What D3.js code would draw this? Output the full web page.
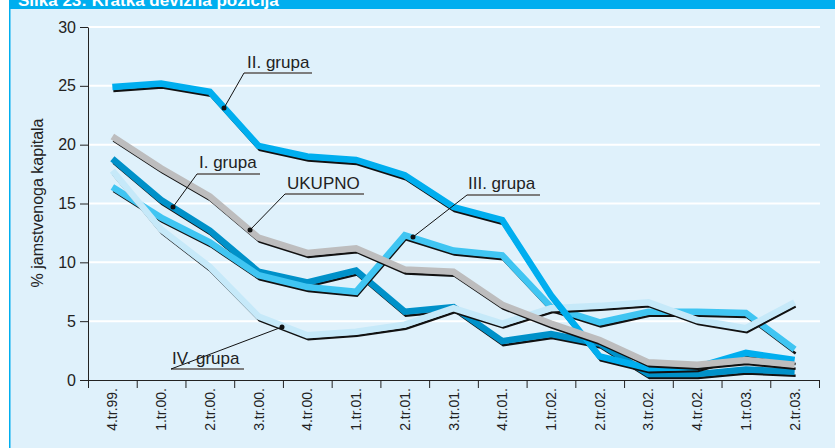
<!DOCTYPE html>
<html>
<head>
<meta charset="utf-8">
<script src="https://cdn.jsdelivr.net/npm/d3@7"></script>
<style>
  body { margin: 0; background: #fff; }
  svg { display: block; font-family: "Liberation Sans", Arial, sans-serif; }
</style>
</head>
<body>
<script>
// data
var categories = ["4.tr.99.", "1.tr.00.", "2.tr.00.", "3.tr.00.", "4.tr.00.", "1.tr.01.", "2.tr.01.",
    "3.tr.01.", "4.tr.01.", "1.tr.02.", "2.tr.02.", "3.tr.02.", "4.tr.02.", "1.tr.03.", "2.tr.03."];
var grupa1 = [18.8, 15.3, 12.7, 9.2, 8.3, 9.3, 5.8, 6.2, 3.3, 3.9, 3.1, 0.5, 0.5, 0.9, 0.7];
var grupa2 = [24.9, 25.2, 24.5, 19.9, 19.0, 18.7, 17.4, 14.7, 13.6, 7.2, 2.0, 1.0, 1.1, 2.3, 1.7];
var grupa3 = [16.4, 13.8, 11.7, 8.9, 7.9, 7.5, 12.3, 11.0, 10.6, 6.2, 4.9, 5.8, 5.8, 5.7, 2.6];
var grupa4 = [17.8, 12.8, 9.6, 5.4, 3.8, 4.1, 4.7, 6.1, 4.8, 6.1, 6.3, 6.6, 5.1, 4.4, 6.6];
var ukupno = [20.7, 18.0, 15.6, 12.1, 10.8, 11.2, 9.4, 9.2, 6.4, 4.8, 3.4, 1.5, 1.3, 1.7, 1.3];
var yTicks = [0, 5, 10, 15, 20, 25, 30];

var width = 835,
    height = 448;

var svg = d3.select("body").append("svg")
    .attr("width", width)
    .attr("height", height);

// frame
svg.append("rect").attr("x", 9).attr("y", 0).attr("width", width - 9).attr("height", height).attr("fill", "#dff1fb");
svg.append("rect").attr("x", 9).attr("y", 0).attr("width", 1.5).attr("height", height).attr("fill", "#00aeef");
svg.append("rect").attr("x", 9).attr("y", 0).attr("width", width - 9).attr("height", 9).attr("fill", "#00aeef");
svg.append("text")
    .attr("x", 18).attr("y", 6)
    .attr("fill", "#fff")
    .attr("font-size", 17)
    .attr("font-weight", "bold")
    .text("Slika 23: Kratka devizna pozicija");

var x = d3.scaleBand()
    .domain(categories)
    .range([88, 819]);

var xb = d3.scaleLinear()
    .domain([0, categories.length])
    .range(x.range());

var y = d3.scaleLinear()
    .domain([0, 30])
    .range([380, 27]);

// grid
svg.append("g")
    .selectAll("line")
    .data(yTicks.slice(1))
    .enter().append("line")
    .attr("x1", 88).attr("x2", 820)
    .attr("y1", function (d) { return y(d); })
    .attr("y2", function (d) { return y(d); })
    .attr("stroke", "#fff")
    .attr("stroke-width", 2);

// axes
var gy = svg.append("g")
    .attr("transform", "translate(88,0)")
    .call(d3.axisLeft(y).tickValues(yTicks).tickSize(8).tickSizeOuter(0).tickPadding(4));
gy.selectAll("text").attr("font-size", 16).attr("fill", "#222").attr("font-family", "Liberation Sans, Arial, sans-serif");
gy.selectAll("line, path").attr("stroke", "#222");

var gx = svg.append("g")
    .attr("transform", "translate(0,380)")
    .call(d3.axisBottom(xb).tickValues(d3.range(categories.length + 1)).tickSize(8).tickSizeOuter(0).tickFormat(""));
gx.selectAll("line, path").attr("stroke", "#222");

svg.append("g")
    .selectAll("text")
    .data(categories)
    .enter().append("text")
    .attr("transform", function (d) { return "translate(" + (x(d) + x.bandwidth() / 2 + 5) + ",388) rotate(-90)"; })
    .attr("text-anchor", "end")
    .attr("font-size", 14)
    .attr("fill", "#222")
    .text(function (d) { return d; });

svg.append("text")
    .attr("transform", "translate(43,203) rotate(-90)")
    .attr("text-anchor", "middle")
    .attr("font-size", 16)
    .attr("fill", "#222")
    .text("% jamstvenoga kapitala");

// lines, each with a black shadow under it
var line = d3.line()
    .x(function (d, i) { return x(categories[i]) + x.bandwidth() / 2; })
    .y(function (d) { return y(d); });

var series = [
    { values: grupa1, color: "#0091c9" },
    { values: grupa3, color: "#40c5f2" },
    { values: grupa4, color: "#c6e9f9" },
    { values: grupa2, color: "#00aeef" },
    { values: ukupno, color: "#bdbdbe" }
];

series.forEach(function (s) {
    svg.append("path")
        .attr("d", line(s.values))
        .attr("transform", "translate(1,4)")
        .attr("fill", "none")
        .attr("stroke", "#111")
        .attr("stroke-width", 2.5);
    svg.append("path")
        .attr("d", line(s.values))
        .attr("fill", "none")
        .attr("stroke", s.color)
        .attr("stroke-width", 6.5);
});

// labels with leaders
var labels = [
    { text: "II. grupa", tx: 247, ty: 68, u1: 244, u2: 312, uy: 73, px: 224, py: 108 },
    { text: "I. grupa", tx: 199, ty: 168, u1: 197, u2: 260, uy: 174, px: 173, py: 207 },
    { text: "UKUPNO", tx: 287, ty: 189, u1: 285, u2: 364, uy: 194, px: 250, py: 230 },
    { text: "III. grupa", tx: 468, ty: 189, u1: 467, u2: 540, uy: 195, px: 413, py: 237 },
    { text: "IV. grupa", tx: 172, ty: 364, u1: 171, u2: 244, uy: 369, px: 282, py: 327 }
];

var gl = svg.append("g");
labels.forEach(function (l) {
    gl.append("line").attr("x1", l.u1).attr("x2", l.u2).attr("y1", l.uy).attr("y2", l.uy)
        .attr("stroke", "#7d7d7d").attr("stroke-width", 2);
    gl.append("line").attr("x1", l.u1).attr("y1", l.uy).attr("x2", l.px).attr("y2", l.py)
        .attr("stroke", "#111").attr("stroke-width", 1);
    gl.append("circle").attr("cx", l.px).attr("cy", l.py).attr("r", 2.5).attr("fill", "#111");
    gl.append("text").attr("x", l.tx).attr("y", l.ty)
        .attr("font-size", 17).attr("fill", "#222").text(l.text);
});
</script>
</body>
</html>
